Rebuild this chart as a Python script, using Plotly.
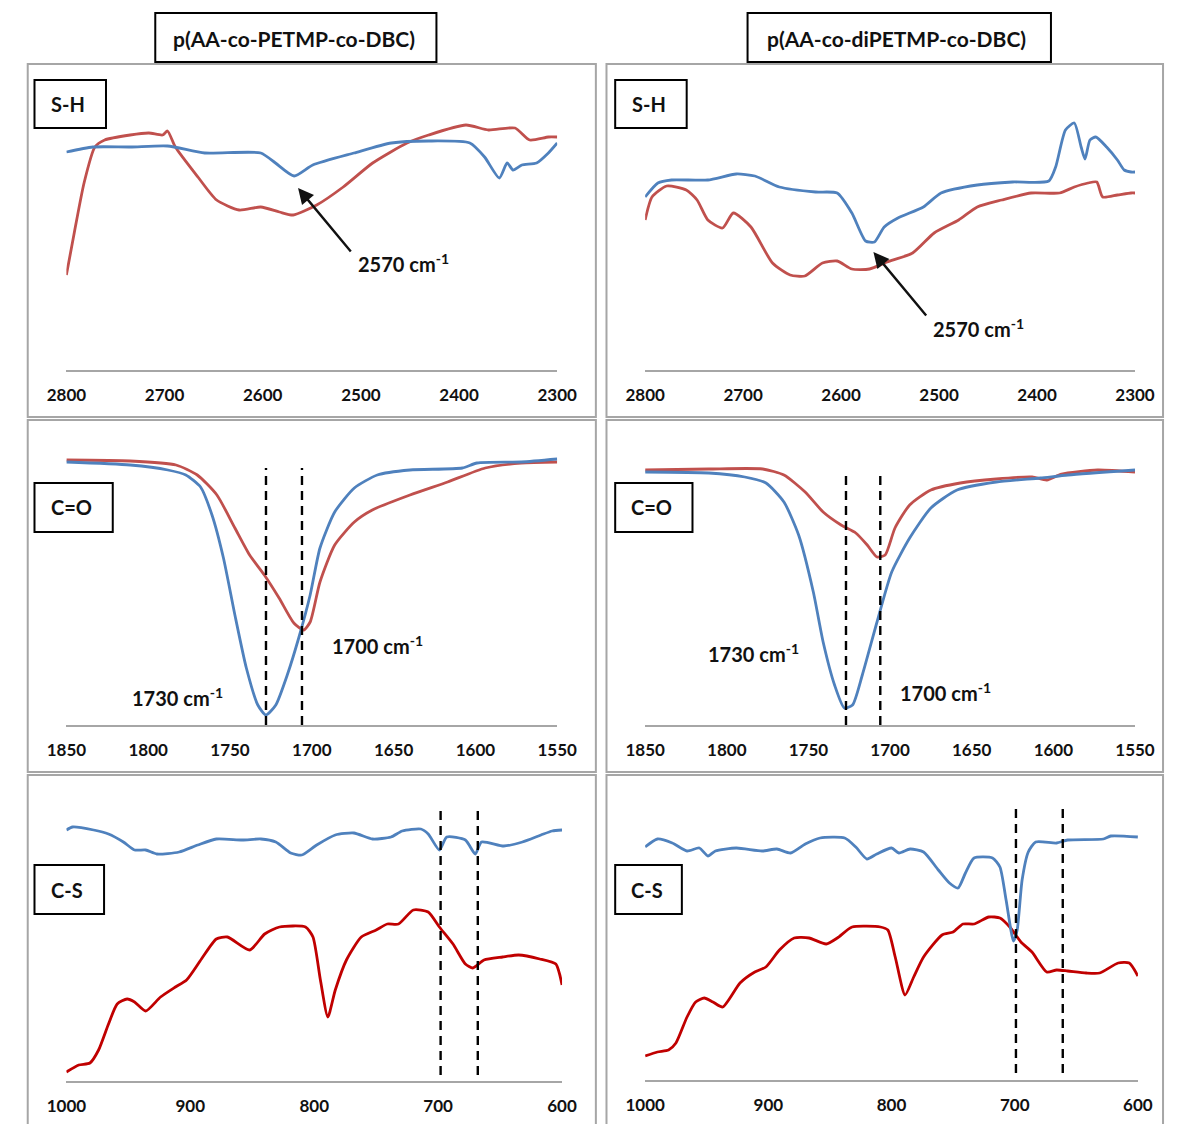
import plotly.graph_objects as go

# ---------------- data (wavenumber in cm-1, transmittance in arbitrary units) ----------------
# Panel 1: S-H, p(AA-co-PETMP-co-DBC)
sh1_blue_wn = [2800, 2773, 2735, 2697, 2659, 2602, 2587, 2568, 2549, 2507, 2469, 2431, 2389,
               2374, 2359, 2351, 2345, 2336, 2321, 2309, 2300]
sh1_blue_t = [218, 223, 223, 224, 217, 217, 207, 194, 205, 217, 227, 229, 227,
              213, 192, 207, 200, 205, 207, 217, 227]
sh1_red_wn = [2800, 2792, 2782, 2771, 2761, 2735, 2716, 2702, 2697, 2689, 2666, 2647, 2624, 2602,
              2583, 2569, 2545, 2518, 2488, 2453, 2431, 2393, 2370, 2343, 2328, 2309, 2300]
sh1_red_t = [95, 137, 187, 223, 230, 235, 237, 235, 239, 223, 193, 170, 160, 163,
             158, 155, 165, 183, 207, 227, 235, 245, 240, 242, 230, 233, 233]

# Panel 2: S-H, p(AA-co-diPETMP-co-DBC)
sh2_blue_wn = [2800, 2787, 2773, 2736, 2707, 2688, 2663, 2626, 2604, 2589, 2575, 2566, 2556, 2542,
               2516, 2498, 2461, 2425, 2388, 2381, 2371, 2362, 2355, 2351, 2346, 2340, 2329, 2318,
               2311, 2304, 2300]
sh2_blue_t = [173, 187, 190, 190, 196, 194, 183, 178, 177, 157, 129, 128, 143, 152,
              163, 177, 185, 188, 189, 203, 240, 247, 223, 211, 230, 233, 223, 210,
              200, 198, 198]
sh2_red_wn = [2800, 2793, 2778, 2758, 2747, 2736, 2721, 2710, 2692, 2670, 2652, 2637, 2619, 2604,
              2589, 2571, 2553, 2527, 2505, 2480, 2461, 2436, 2406, 2377, 2362, 2348, 2339, 2333,
              2318, 2304, 2300]
sh2_red_t = [150, 173, 184, 180, 170, 150, 142, 157, 143, 107, 95, 94, 107, 109,
             101, 101, 108, 117, 137, 150, 163, 170, 177, 177, 183, 187, 188, 173,
             175, 177, 177]

# Panel 3: C=O, p(AA-co-PETMP-co-DBC)
co1_blue_wn = [1850, 1811, 1788, 1777, 1768, 1761, 1754, 1747, 1740, 1733, 1728, 1722, 1715, 1708,
               1701, 1695, 1686, 1674, 1660, 1640, 1608, 1599, 1572, 1550]
co1_blue_t = [263, 260, 255, 250, 238, 210, 167, 110, 57, 20, 10, 20, 50, 87,
              130, 177, 213, 237, 250, 255, 257, 262, 263, 266]
co1_red_wn = [1850, 1811, 1783, 1770, 1758, 1747, 1738, 1729, 1720, 1711, 1705, 1701, 1695, 1686,
              1674, 1663, 1640, 1617, 1594, 1572, 1550]
co1_red_t = [265, 264, 260, 250, 230, 197, 170, 150, 127, 102, 95, 103, 143, 180,
             203, 215, 230, 243, 257, 262, 263]

# Panel 4: C=O, p(AA-co-diPETMP-co-DBC)
co2_blue_wn = [1850, 1811, 1789, 1776, 1765, 1756, 1747, 1741, 1734, 1728, 1723, 1717, 1708, 1699,
               1688, 1675, 1659, 1635, 1608, 1591, 1550]
co2_blue_t = [253, 252, 248, 242, 223, 190, 133, 83, 40, 17, 20, 50, 103, 153,
              187, 217, 235, 243, 247, 250, 255]
co2_red_wn = [1850, 1811, 1778, 1765, 1752, 1741, 1730, 1721, 1714, 1708, 1703, 1697, 1688, 1675,
              1657, 1635, 1613, 1604, 1595, 1573, 1550]
co2_red_t = [255, 256, 256, 250, 233, 213, 200, 192, 180, 168, 170, 197, 220, 235,
             242, 246, 248, 245, 251, 255, 253]

# Panel 5: C-S, p(AA-co-PETMP-co-DBC)
cs1_blue_wn = [1000, 995, 978, 966, 954, 945, 936, 927, 909, 894, 879, 858, 843, 831, 819, 810,
               798, 783, 768, 753, 738, 729, 714, 708, 699, 693, 678, 670, 665, 647, 632, 617,
               608, 600]
cs1_blue_t = [251, 254, 251, 247, 239, 231, 231, 227, 229, 236, 242, 241, 242, 239, 228, 226,
              236, 246, 248, 242, 244, 250, 252, 247, 231, 244, 241, 227, 239, 235, 239, 246,
              250, 251]
cs1_red_wn = [1000, 990, 981, 974, 966, 959, 951, 945, 936, 924, 912, 903, 891, 879, 870, 852,
              840, 828, 807, 801, 795, 789, 783, 774, 762, 750, 741, 732, 720, 708, 699, 688,
              678, 672, 663, 648, 635, 618, 605, 602, 600]
cs1_red_t = [9, 16, 18, 31, 57, 77, 82, 79, 70, 84, 94, 101, 122, 142, 144, 131,
             147, 154, 154, 144, 101, 64, 91, 121, 144, 151, 157, 157, 171, 169, 154, 137,
             117, 113, 121, 124, 126, 122, 117, 107, 96]

# Panel 6: C-S, p(AA-co-diPETMP-co-DBC)
cs2_blue_wn = [1000, 990, 978, 966, 956, 949, 943, 926, 905, 893, 882, 870, 858, 838, 829, 820,
               812, 800, 794, 785, 774, 762, 753, 746, 740, 733, 718, 712, 707, 701, 698, 694,
               689, 683, 666, 657, 628, 622, 600]
cs2_blue_t = [233, 241, 237, 229, 232, 224, 229, 232, 229, 231, 227, 236, 242, 242, 233, 221,
              226, 232, 227, 231, 228, 210, 197, 192, 207, 222, 222, 213, 180, 139, 150, 200,
              228, 238, 237, 240, 241, 244, 243]
cs2_red_wn = [1000, 990, 981, 975, 966, 959, 952, 945, 937, 923, 911, 902, 891, 879, 867, 853,
              844, 832, 809, 803, 797, 789, 782, 774, 759, 750, 742, 733, 721, 712, 704, 695,
              686, 674, 666, 657, 642, 631, 616, 607, 600]
cs2_red_t = [24, 28, 30, 37, 63, 78, 82, 78, 73, 97, 108, 113, 130, 142, 142, 136,
             142, 153, 153, 150, 123, 85, 103, 123, 145, 148, 156, 156, 163, 162, 153, 138,
             128, 108, 110, 109, 107, 107, 117, 117, 104]

# marker lines (cm-1)
co1_marks = [1728, 1706]
co2_marks = [1727, 1706]
cs1_marks = [698, 668]
cs2_marks = [699, 661]

# tick labels
sh_ticks = [2800, 2700, 2600, 2500, 2400, 2300]
co_ticks = [1850, 1800, 1750, 1700, 1650, 1600, 1550]
cs_ticks = [1000, 900, 800, 700, 600]

column_titles = ["p(AA-co-PETMP-co-DBC)", "p(AA-co-diPETMP-co-DBC)"]
row_labels = ["S-H", "C=O", "C-S"]

# ---------------- styling / layout ----------------
W, H = 1184, 1124
BLUE = "#4F81BD"
RED = "#C0504D"
DARKRED = "#C00000"
GRAY = "#A6A6A6"
TXT = "#111111"
FONT = "Lato"


def fx(x):
    return x / W


def fy(y):
    return 1 - y / H


# plot areas in pixels: x0, x1 (axis extent), ytop, yaxis-line
panels = [
    dict(x0=48, x1=556, yt=64, yb=370, xr=[2800, 2300], ticks=sh_ticks),
    dict(x0=647, x1=1154, yt=64, yb=370, xr=[2800, 2300], ticks=sh_ticks),
    dict(x0=48, x1=556, yt=420, yb=725, xr=[1850, 1550], ticks=co_ticks),
    dict(x0=647, x1=1154, yt=420, yb=725, xr=[1850, 1550], ticks=co_ticks),
    dict(x0=48, x1=561, yt=775, yb=1081, xr=[1000, 600], ticks=cs_ticks),
    dict(x0=647, x1=1157, yt=775, yb=1080, xr=[1000, 600], ticks=cs_ticks),
]

series = [
    (sh1_blue_wn, sh1_blue_t, sh1_red_wn, sh1_red_t, RED, None),
    (sh2_blue_wn, sh2_blue_t, sh2_red_wn, sh2_red_t, RED, None),
    (co1_blue_wn, co1_blue_t, co1_red_wn, co1_red_t, RED, (co1_marks, 0, 257)),
    (co2_blue_wn, co2_blue_t, co2_red_wn, co2_red_t, RED, (co2_marks, 0, 255)),
    (cs1_blue_wn, cs1_blue_t, cs1_red_wn, cs1_red_t, DARKRED, (cs1_marks, 6, 274)),
    (cs2_blue_wn, cs2_blue_t, cs2_red_wn, cs2_red_t, DARKRED, (cs2_marks, 7, 275)),
]

fig = go.Figure()
layout = dict(
    width=W, height=H, margin=dict(l=0, r=0, t=0, b=0),
    paper_bgcolor="white", plot_bgcolor="rgba(0,0,0,0)",
    showlegend=False, font=dict(family=FONT, color=TXT),
)

for i, (p, s) in enumerate(zip(panels, series), start=1):
    sfx = "" if i == 1 else str(i)
    xa, ya = "x" + sfx, "y" + sfx
    bwn, bt, rwn, rt, rcol, marks = s
    fig.add_trace(go.Scatter(x=rwn, y=rt, xaxis=xa, yaxis=ya, mode="lines",
                             line=dict(color=rcol, width=2.8, shape="spline", smoothing=0.6),
                             hoverinfo="skip"))
    fig.add_trace(go.Scatter(x=bwn, y=bt, xaxis=xa, yaxis=ya, mode="lines",
                             line=dict(color=BLUE, width=2.8, shape="spline", smoothing=0.6),
                             hoverinfo="skip"))
    if marks is not None:
        vals, lo, hi = marks
        mx, my = [], []
        for v in vals:
            mx += [v, v, None]
            my += [lo, hi, None]
        fig.add_trace(go.Scatter(x=mx, y=my, xaxis=xa, yaxis=ya, mode="lines",
                                 line=dict(color="black", width=2.4, dash="9px,6px"),
                                 hoverinfo="skip"))
    layout["xaxis" + sfx] = dict(
        domain=[fx(p["x0"]), fx(p["x1"])], range=p["xr"], anchor=ya,
        tickvals=p["ticks"], ticktext=["<b>%d</b>" % t for t in p["ticks"]],
        showline=True, linecolor=GRAY, linewidth=2, showgrid=False, zeroline=False,
        ticks="outside", ticklen=9, tickcolor="rgba(0,0,0,0)",
        tickfont=dict(family=FONT, size=17, color=TXT), fixedrange=True,
    )
    layout["yaxis" + sfx] = dict(
        domain=[fy(p["yb"]), fy(p["yt"])], range=[0, p["yb"] - p["yt"]],
        anchor=xa, visible=False, fixedrange=True,
    )

shapes = []
annotations = []

# panel borders
borders = [(8, 64, 596, 417), (607, 64, 1183, 417),
           (8, 420, 596, 772), (607, 420, 1183, 772),
           (8, 775, 596, 1130), (607, 775, 1183, 1130)]
for x0, y0, x1, y1 in borders:
    shapes.append(dict(type="rect", xref="paper", yref="paper", layer="below",
                       x0=fx(x0), x1=fx(x1), y0=fy(y1), y1=fy(y0),
                       line=dict(color=GRAY, width=2), fillcolor="rgba(0,0,0,0)"))

# column title boxes
title_boxes = [((140, 13, 431, 62), 284), ((753, 13, 1067, 62), 907)]
for ((x0, y0, x1, y1), tx), title in zip(title_boxes, column_titles):
    shapes.append(dict(type="rect", xref="paper", yref="paper",
                       x0=fx(x0), x1=fx(x1), y0=fy(y1), y1=fy(y0),
                       line=dict(color="black", width=2), fillcolor="white"))
    annotations.append(dict(xref="paper", yref="paper", x=fx(tx), y=fy((y0 + y1) / 2 + 1),
                            text="<b>%s</b>" % title, showarrow=False,
                            font=dict(family=FONT, size=21, color=TXT),
                            xanchor="center", yanchor="middle"))

# row label boxes
label_boxes = [
    ((15, 80, 89, 128), 0), ((616, 80, 690, 128), 0),
    ((15, 483, 96, 532), 1), ((616, 483, 696, 532), 1),
    ((15, 865, 87, 914), 2), ((616, 865, 685, 914), 2),
]
for (x0, y0, x1, y1), li in label_boxes:
    shapes.append(dict(type="rect", xref="paper", yref="paper",
                       x0=fx(x0), x1=fx(x1), y0=fy(y1), y1=fy(y0),
                       line=dict(color="black", width=2), fillcolor="white"))
    annotations.append(dict(xref="paper", yref="paper", x=fx((x0 + x1) / 2 - 2),
                            y=fy((y0 + y1) / 2), text="<b>%s</b>" % row_labels[li],
                            showarrow=False, font=dict(family=FONT, size=20, color=TXT),
                            xanchor="center", yanchor="middle"))

# peak labels (paper pixel positions of text start)
peak_labels = [
    (348, 263, "2570"), (943, 328, "2570"),
    (321, 645, "1700"), (114, 697, "1730"),
    (710, 653, "1730"), (909, 692, "1700"),
]
for x, y, t in peak_labels:
    annotations.append(dict(xref="paper", yref="paper", x=fx(x), y=fy(y),
                            text="<b>%s cm<sup>-1</sup></b>" % t, showarrow=False,
                            font=dict(family=FONT, size=20, color=TXT),
                            xanchor="left", yanchor="middle"))

# arrows pointing at the 2570 cm-1 band
arrows = [("x", "y", 2564, 182), ("x2", "y2", 2567, 118)]
for xr, yr, xv, yv in arrows:
    annotations.append(dict(xref=xr, yref=yr, x=xv, y=yv, text="", showarrow=True,
                            ax=54, ay=65, arrowhead=2, arrowsize=1.3, arrowwidth=2.4,
                            arrowcolor=TXT, standoff=0))

layout["shapes"] = shapes
layout["annotations"] = annotations
fig.update_layout(**layout)
fig.write_html("out.html",
               config={"displayModeBar": False},
               post_script="document.body.style.margin='0';document.body.style.overflow='hidden';")
